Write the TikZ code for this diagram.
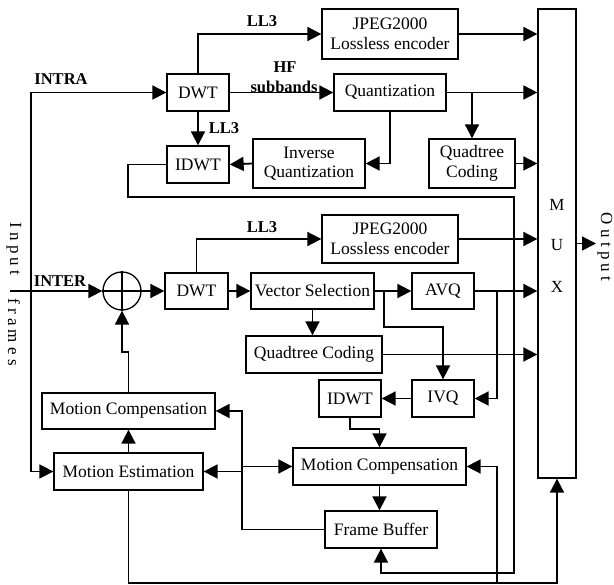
\documentclass[tikz,border=0pt]{standalone}
\usepackage{fontspec}
\setmainfont{Liberation Serif}
\usetikzlibrary{arrows.meta}
\begin{document}
\begin{tikzpicture}[x=1pt,y=-1pt,
  box/.style={draw,line width=1.3pt,inner sep=0pt,align=center,font=\fontsize{17.5}{19.5}\selectfont},
  lbl/.style={inner sep=0pt,font=\fontsize{16.5}{19}\selectfont\bfseries},
  txt/.style={inner sep=0pt,font=\fontsize{17}{19}\selectfont},
  ln/.style={line width=1.8pt},
  arr/.style={line width=1.8pt,-{Triangle[length=14pt,width=14pt]}}]
\useasboundingbox (0,0) rectangle (614,585);
% boxes
\node[box,minimum width=62,minimum height=37] (DWTa) at (198,92.5) {DWT};
\node[box,minimum width=136,minimum height=50] (JPa) at (390,34) {JPEG2000\\Lossless encoder};
\node[box,minimum width=112,minimum height=37] (Q) at (390,92.5) {Quantization};
\node[box,minimum width=86,minimum height=49] (QTa) at (472,163.5) {Quadtree\\Coding};
\node[box,minimum width=112,minimum height=49] (IQ) at (309,163.5) {Inverse\\Quantization};
\node[box,minimum width=62,minimum height=37] (IDWTa) at (198,164.5) {IDWT};
\node[box,minimum width=38,minimum height=469] (MUX) at (557,243.5) {};
\node[txt] (mM) at (557,205) {M};
\node[txt] (mU) at (557,245) {U};
\node[txt] (mX) at (557,287) {X};
\node[box,minimum width=136,minimum height=48] (JPb) at (390,239) {JPEG2000\\Lossless encoder};
\node[box,minimum width=63,minimum height=36] (DWTb) at (196.5,291) {DWT};
\node[box,minimum width=123,minimum height=36] (VS) at (312.5,291) {Vector Selection};
\node[box,minimum width=62,minimum height=36] (AVQ) at (443,291) {AVQ};
\node[box,minimum width=136,minimum height=37] (QTb) at (314,354.5) {Quadtree Coding};
\node[box,minimum width=62,minimum height=37] (IVQ) at (443,398.5) {IVQ};
\node[box,minimum width=62,minimum height=37] (IDWTb) at (350,398.5) {IDWT};
\node[box,minimum width=173,minimum height=36] (MCa) at (128.5,411) {Motion Compensation};
\node[box,minimum width=149,minimum height=37] (ME) at (128.5,471.5) {Motion Estimation};
\node[box,minimum width=173,minimum height=37] (MCb) at (379.5,466.5) {Motion Compensation};
\node[box,minimum width=112,minimum height=37] (FB) at (381,529.5) {Frame Buffer};
\node[draw,circle,line width=1.3pt,minimum size=38pt,inner sep=0pt] (C) at (122,291) {};
\draw[line width=1.3pt] (C.north) -- (C.south) (C.west) -- (C.east);
% texts
\node[txt,rotate=-90] (in1) at (14,249) {I n p u t};
\node[txt,rotate=-90] (in2) at (14,332) {f r a m e s};
\node[txt,rotate=-90] (outt) at (605,247) {O u t p u t};
\node[lbl] (lINTRA) at (61,79) {INTRA};
\node[lbl] (lINTER) at (60,281) {INTER};
\node[lbl] (lLLa) at (262,21) {LL3};
\node[lbl] (lHF) at (285,67) {HF};
\node[lbl] (lsub) at (284,87) {subbands};
\node[lbl] (lLLb) at (224,128) {LL3};
\node[lbl] (lLLc) at (262,227) {LL3};
% coordinates
\coordinate (inL) at (10,291);
\coordinate (J) at (31,291);
\coordinate (out) at (596,243.5);
% input
\draw[ln] (inL) -- (J);
\draw[arr] (J) |- (DWTa.west);
\draw[arr] (J) |- (ME.west);
\draw[arr] (J) -- (C.west);
% intra branch
\draw[arr] (DWTa.north) |- (JPa.west);
\draw[arr] (JPa.east) -- (JPa.east -| MUX.west);
\draw[arr] (DWTa.east) -- (Q.west);
\draw[arr] (Q.east) -- (Q.east -| MUX.west);
\draw[arr] (Q.east -| QTa.north) -- (QTa.north);
\draw[arr] (QTa.east) -- (QTa.east -| MUX.west);
\draw[arr] (Q.south) |- (IQ.east);
\draw[arr] (IQ.west) -- (IDWTa.east);
\draw[arr] (DWTa.south) -- (IDWTa.north);
\draw[arr] (IDWTa.west) -- (128,164.5) -- (128,197) -- (514,197) -- (514,573) -| (FB.south);
% inter branch
\draw[arr] (C.east) -- (DWTb.west);
\draw[arr] (MCa.north) -- (128.5,352) -- (122,352) -- (C.south);
\draw[arr] (ME.north) -- (MCa.south);
\draw[arr] (DWTb.north) |- (JPb.west);
\draw[arr] (JPb.east) -- (JPb.east -| MUX.west);
\draw[arr] (DWTb.east) -- (VS.west);
\draw[arr] (VS.east) -- (AVQ.west);
\draw[arr] (AVQ.east) -- (AVQ.east -| MUX.west);
\draw[arr] (497,291) |- (IVQ.east);
\draw[arr] (384,291) -- (384,327) -| (IVQ.north);
\draw[arr] (VS.south) -- (VS.south |- QTb.north);
\draw[arr] (QTb.east) -- (QTb.east -| MUX.west);
\draw[arr] (IVQ.west) -- (IDWTb.east);
\draw[arr] (IDWTb.south) -- ++(0,11) -| (MCb.north);
\draw[arr] (MCb.south) -- (MCb.south |- FB.north);
\draw[arr] (FB.west) -| (242,411) -- (MCa.east);
\draw[arr] (ME.east -| 242,0) -- (ME.east);
\draw[arr] (MCb.west -| 242,0) -- (MCb.west);
\draw[arr] (ME.south) -- (128.5,583) -| (MUX.south);
\draw[arr] (497,583) |- (MCb.east);
\draw[arr] (MUX.east) -- (out);
\end{tikzpicture}
\end{document}
